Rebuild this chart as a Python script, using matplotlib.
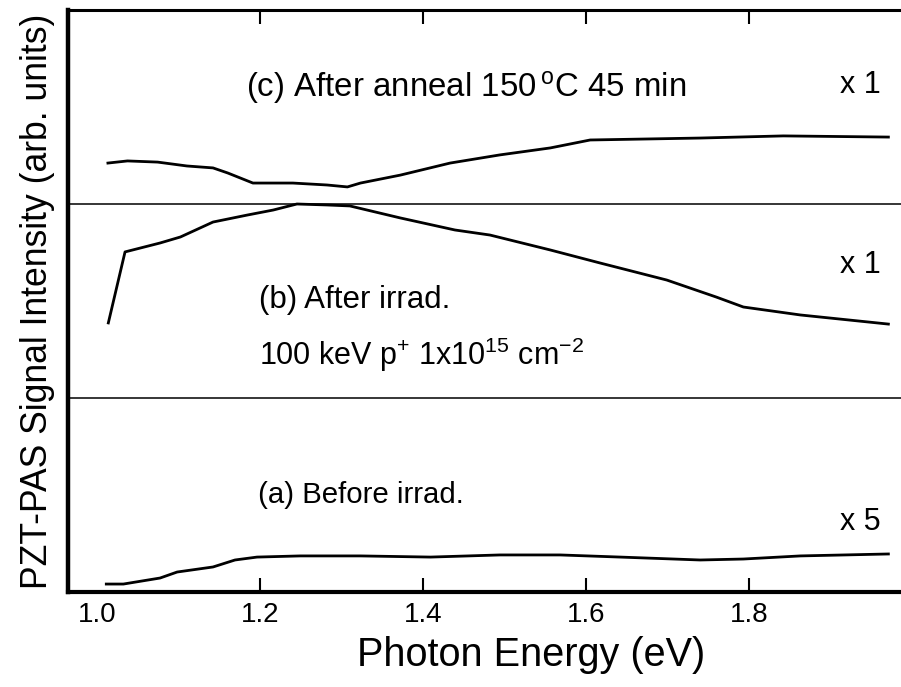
import matplotlib
matplotlib.use("Agg")
import matplotlib.pyplot as plt

plt.rcParams['font.family'] = ['Liberation Sans', 'DejaVu Sans']
plt.rcParams['mathtext.fontset'] = 'custom'
plt.rcParams['mathtext.rm'] = 'Liberation Sans'
plt.rcParams['mathtext.it'] = 'Liberation Sans:italic'
plt.rcParams['mathtext.bf'] = 'Liberation Sans:bold'

# Panel (a): before irradiation (x5), offset band 0..1
a_x = [1.011, 1.032, 1.077, 1.098, 1.142, 1.169, 1.196, 1.249, 1.323, 1.409, 1.494, 1.568, 1.642, 1.740, 1.793, 1.863, 1.971]
a_y = [0.041, 0.041, 0.072, 0.103, 0.129, 0.165, 0.180, 0.186, 0.186, 0.180, 0.191, 0.191, 0.180, 0.165, 0.170, 0.186, 0.196]

# Panel (b): after irradiation (x1), band 1..2
b_x = [1.0135, 1.034, 1.077, 1.102, 1.142, 1.184, 1.216, 1.245, 1.282, 1.310, 1.372, 1.439, 1.482, 1.556, 1.617, 1.699, 1.760, 1.793, 1.863, 1.971]
b_y = [1.387, 1.753, 1.799, 1.830, 1.907, 1.943, 1.969, 2.000, 1.995, 1.990, 1.928, 1.866, 1.840, 1.763, 1.696, 1.608, 1.520, 1.469, 1.428, 1.381]

# Panel (c): after anneal (x1), band 2..3
c_x = [1.013, 1.037, 1.074, 1.110, 1.142, 1.160, 1.191, 1.240, 1.282, 1.307, 1.323, 1.372, 1.433, 1.494, 1.556, 1.605, 1.740, 1.842, 1.971]
c_y = [2.211, 2.222, 2.216, 2.196, 2.186, 2.160, 2.108, 2.108, 2.098, 2.088, 2.108, 2.149, 2.211, 2.253, 2.289, 2.330, 2.340, 2.351, 2.345]

tick_vals = [1.0, 1.2, 1.4, 1.6, 1.8]
tick_labels = ['1.0', '1.2', '1.4', '1.6', '1.8']
dividers = [1.0, 2.0]

fig = plt.figure(figsize=(9.01, 6.87), dpi=100)
ax = fig.add_axes([68/901, 95/687, (905-68)/901, (592-10)/687])

for xs, ys in [(a_x, a_y), (b_x, b_y), (c_x, c_y)]:
    ax.plot(xs, ys, color='black', lw=2.0, solid_joinstyle='round')
for d in dividers:
    ax.axhline(d, color='black', lw=1.1)

ax.set_xlim(0.964, 1.9914)
ax.set_ylim(0, 3)
ax.set_xticks(tick_vals)
ax.set_xticklabels(tick_labels, fontsize=20)
ax.set_yticks([])
ax.tick_params(axis='x', direction='in', length=10, width=1.5, top=True, pad=7)
for t in [ax.xaxis.get_major_ticks()[0]]:
    t.tick1line.set_visible(False)
    t.tick2line.set_visible(False)

ax.spines['right'].set_visible(False)
ax.spines['left'].set_linewidth(3.2)
ax.spines['bottom'].set_linewidth(3.0)
ax.spines['top'].set_linewidth(2.2)

ax.set_xlabel('Photon Energy (eV)', fontsize=28.5)
ax.xaxis.set_label_coords((531-68)/(905-68), -(655-592)/582, transform=ax.transAxes)
ax.xaxis.label.set_va('center')
ax.set_ylabel('PZT-PAS Signal Intensity (arb. units)', fontsize=25.6, labelpad=9)

fs = 22
ax.text(1.182, 2.598, r'(c) After anneal 150$\,^{\rm o}$C 45 min', fontsize=23.8, va='center', ha='left')
ax.text(1.912, 2.613, 'x 1', fontsize=fs, va='center', ha='left')
ax.text(1.198, 1.505, '(b) After irrad.', fontsize=22.5, va='center', ha='left')
ax.text(1.198, 1.222, r'100 keV p$^{+}$ 1x10$^{15}$ cm$^{-2}$', fontsize=fs, va='center', ha='left')
ax.text(1.912, 1.686, 'x 1', fontsize=fs, va='center', ha='left')
ax.text(1.197, 0.500, '(a) Before irrad.', fontsize=21.2, va='center', ha='left')
ax.text(1.912, 0.361, 'x 5', fontsize=fs, va='center', ha='left')

fig.savefig('out.png', dpi=100)
